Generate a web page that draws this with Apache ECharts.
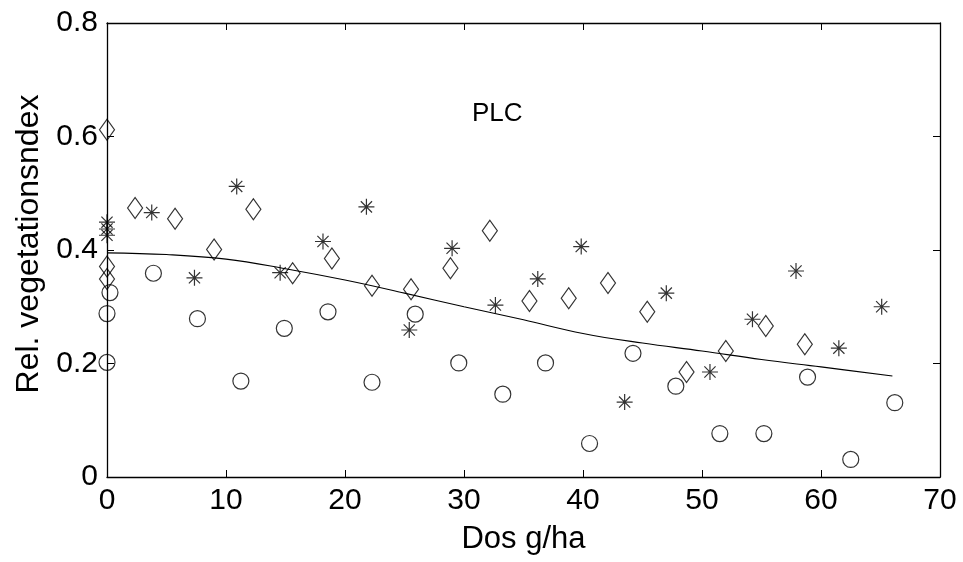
<!DOCTYPE html>
<html>
<head>
<meta charset="utf-8">
<script src="https://cdn.jsdelivr.net/npm/echarts@6/dist/echarts.min.js"></script>
<style>
html,body{margin:0;padding:0;background:#fff;}
#chart{width:963px;height:562px;}
</style>
</head>
<body>
<div id="chart"></div>
<script>
// Circles (o)
const circleDose = [0, 0, 0.25, 3.9, 7.6, 11.25, 14.9, 18.57, 22.27, 25.9, 29.56, 33.26, 36.85, 40.55, 44.2, 47.8, 51.5, 55.2, 58.87, 62.5, 66.2];
const circleVal  = [0.202, 0.288, 0.325, 0.359, 0.279, 0.169, 0.262, 0.291, 0.167, 0.287, 0.201, 0.146, 0.201, 0.059, 0.218, 0.160, 0.0765, 0.0765, 0.176, 0.031, 0.131];
// Diamonds
const diamondDose = [0, 0, 0, 2.36, 5.72, 9.0, 12.3, 15.6, 18.9, 22.27, 25.55, 28.86, 32.17, 35.5, 38.8, 42.1, 45.4, 48.7, 52.0, 55.36, 58.64];
const diamondVal  = [0.612, 0.371, 0.349, 0.474, 0.455, 0.401, 0.472, 0.359, 0.385, 0.337, 0.331, 0.368, 0.434, 0.31, 0.315, 0.342, 0.291, 0.185, 0.222, 0.266, 0.234];
// Stars (*)
const starDose = [0, 0, 0, 3.76, 7.35, 10.9, 14.55, 18.15, 21.8, 25.4, 29.0, 32.64, 36.2, 39.85, 43.5, 47.0, 50.67, 54.24, 57.9, 61.5, 65.1];
const starVal  = [0.449, 0.437, 0.426, 0.466, 0.351, 0.512, 0.36, 0.415, 0.476, 0.259, 0.403, 0.303, 0.349, 0.406, 0.132, 0.324, 0.185, 0.278, 0.363, 0.227, 0.300];
// Fitted curve
const curveDose = [0, 5, 10, 15, 20, 25, 30, 35, 40, 45, 50, 55, 60, 66];
const curveVal  = [0.395, 0.392, 0.384, 0.367, 0.347, 0.324, 0.300, 0.277, 0.253, 0.236, 0.222, 0.207, 0.194, 0.178];
// Axes
const xTicks = [0, 10, 20, 30, 40, 50, 60, 70];
const yTicks = [0, 0.2, 0.4, 0.6, 0.8];
const xTitle = 'Dos g/ha';
const yTitle = 'Rel. vegetationsndex';
const plotLabel = 'PLC';

const zip = (a, b) => a.map((v, i) => [v, b[i]]);
const FONT = 'Liberation Sans, Arial, Helvetica, sans-serif';
const starPath = 'path://M0,-1L0,1M-1,0L1,0M-0.7,-0.7L0.7,0.7M-0.7,0.7L0.7,-0.7';

const chart = echarts.init(document.getElementById('chart'), null, {renderer: 'canvas'});
const axisLine = {show: true, onZero: false, lineStyle: {color: '#000', width: 1.3}};
const tickIn = {show: true, inside: true, length: 7, lineStyle: {color: '#000', width: 1}};

chart.setOption({
  animation: false,
  backgroundColor: '#fff',
  grid: {left: 107, right: 23, top: 23, bottom: 85, containLabel: false},
  xAxis: [{
    type: 'value', min: xTicks[0], max: xTicks[xTicks.length - 1], interval: 10,
    position: 'bottom',
    name: xTitle, nameLocation: 'middle', nameGap: 47,
    nameTextStyle: {fontFamily: FONT, fontSize: 31, color: '#000'},
    axisLine: axisLine, axisTick: tickIn,
    axisLabel: {fontFamily: FONT, fontSize: 30, color: '#000', margin: 9},
    splitLine: {show: false}
  }, {
    type: 'value', min: xTicks[0], max: xTicks[xTicks.length - 1], interval: 10,
    position: 'top',
    axisLine: axisLine, axisTick: tickIn, axisLabel: {show: false}, splitLine: {show: false}
  }],
  yAxis: [{
    type: 'value', min: yTicks[0], max: yTicks[yTicks.length - 1], interval: 0.2,
    position: 'left',
    name: yTitle, nameLocation: 'middle', nameGap: 61,
    nameTextStyle: {fontFamily: FONT, fontSize: 32, color: '#000', padding: [0, 0, 0, 12]},
    axisLine: axisLine, axisTick: tickIn,
    axisLabel: {fontFamily: FONT, fontSize: 30, color: '#000', margin: 9,
      formatter: v => String(Math.round(v * 10) / 10)},
    splitLine: {show: false}
  }, {
    type: 'value', min: yTicks[0], max: yTicks[yTicks.length - 1], interval: 0.2,
    position: 'right',
    axisLine: axisLine, axisTick: tickIn, axisLabel: {show: false}, splitLine: {show: false}
  }],
  graphic: [{
    type: 'text', left: 472, top: 101,
    style: {text: plotLabel, fontFamily: FONT, fontSize: 26, fill: '#000'}
  }],
  series: [{
    type: 'line', name: 'fit', data: zip(curveDose, curveVal), smooth: 0.4,
    showSymbol: false, symbol: 'none',
    lineStyle: {color: '#000', width: 1.1}, z: 1
  }, {
    type: 'scatter', name: 'o', data: zip(circleDose, circleVal),
    symbol: 'circle', symbolSize: 16,
    itemStyle: {color: 'rgba(0,0,0,0)', borderColor: '#000', borderWidth: 1.2}, z: 2
  }, {
    type: 'scatter', name: 'diamond', data: zip(diamondDose, diamondVal),
    symbol: 'diamond', symbolSize: [15, 21],
    itemStyle: {color: 'rgba(0,0,0,0)', borderColor: '#000', borderWidth: 1.2}, z: 2
  }, {
    type: 'scatter', name: 'star', data: zip(starDose, starVal),
    symbol: starPath, symbolSize: 16,
    itemStyle: {color: 'rgba(0,0,0,0)', borderColor: '#000', borderWidth: 1.2}, z: 2
  }]
});
</script>
</body>
</html>
